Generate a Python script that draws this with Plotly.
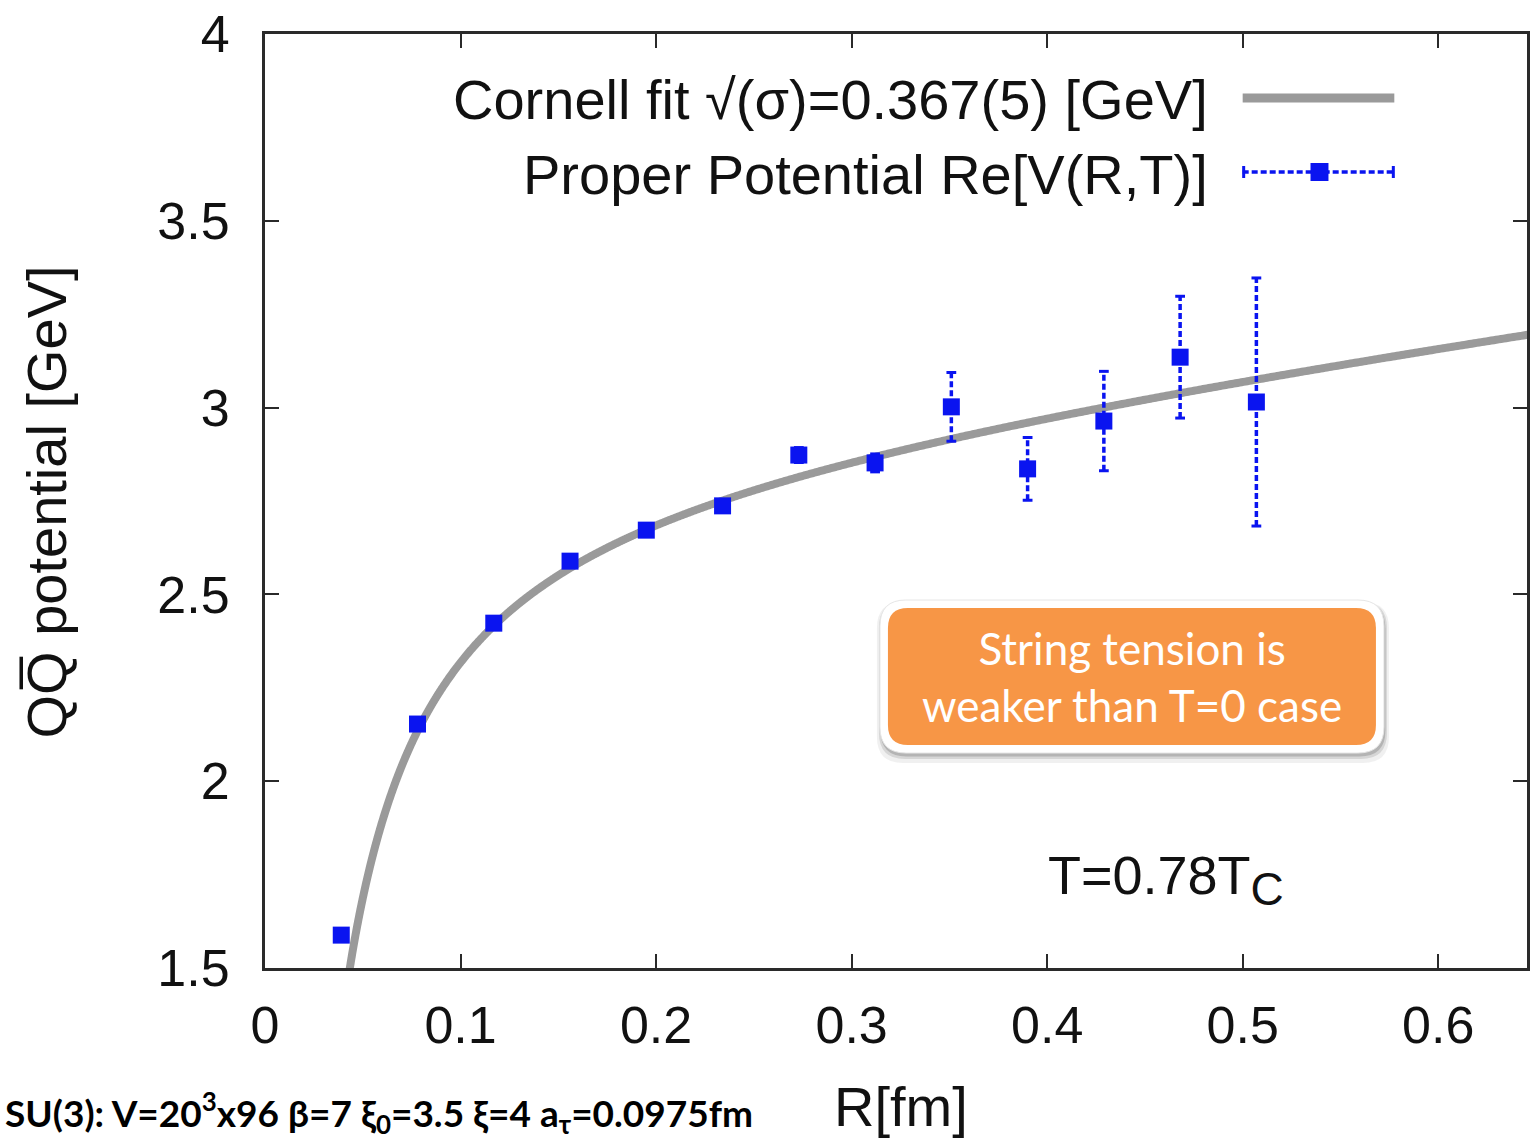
import numpy as np
import plotly.graph_objects as go

# Lattice data: real part of the proper Q-Qbar potential at T = 0.78 Tc
R_FM = [0.039, 0.078, 0.117, 0.156, 0.195, 0.234, 0.273, 0.312, 0.351, 0.390, 0.429, 0.468, 0.507]
V_RE = [1.588, 2.153, 2.423, 2.589, 2.672, 2.737, 2.873, 2.852, 3.002, 2.836, 2.964, 3.135, 3.015]
V_ERR = [0.004, 0.004, 0.004, 0.004, 0.005, 0.006, 0.020, 0.024, 0.092, 0.084, 0.133, 0.163, 0.332]

# Cornell fit V(R) = V0 - alpha*hbar*c/R + sigma*R
SQRT_SIGMA = 0.367          # GeV
HBARC = 0.1973              # GeV fm
FIT_V0 = 2.8465             # GeV
FIT_A = 0.0597              # GeV fm (alpha * hbar c)

X_TICKS = [0, 0.1, 0.2, 0.3, 0.4, 0.5, 0.6]
X_TICK_TEXT = ["0", "0.1", "0.2", "0.3", "0.4", "0.5", "0.6"]
Y_TICKS = [1.5, 2, 2.5, 3, 3.5, 4]
Y_TICK_TEXT = ["1.5", "2", "2.5", "3", "3.5", "4"]

# page geometry (pixels)
W, H = 1530, 1139
ML, MR, MT, MB = 265, 0, 34, 171
X_RANGE = [0.0, 0.6454]
Y_RANGE = [1.5, 4.0]
PW, PH = W - ML - MR, H - MT - MB


def xd(px):
    return X_RANGE[0] + (px - ML) / PW * (X_RANGE[1] - X_RANGE[0])


def yd(py):
    return Y_RANGE[1] - (py - MT) / PH * (Y_RANGE[1] - Y_RANGE[0])


def xp(px):
    return (px - ML) / PW


def yp(py):
    return 1 - (py - MT) / PH


BLUE = "#0a14f0"
GREY = "#9a9a9a"
ORANGE = "#f79646"
DASH = "6px,3px"

sigma_fm = SQRT_SIGMA ** 2 / HBARC
r_curve = np.geomspace(0.035, 0.70, 1500)
v_curve = FIT_V0 - FIT_A / r_curve + sigma_fm * r_curve

fig = go.Figure()

fig.add_trace(go.Scatter(x=r_curve, y=v_curve, mode="lines",
                         line=dict(color=GREY, width=8, simplify=False),
                         hoverinfo="skip", showlegend=False))

# dashed error bars with small caps
ex, ey, cx, cy = [], [], [], []
cap = 0.0025
for r, v, e in zip(R_FM, V_RE, V_ERR):
    ex += [r, r, None]
    ey += [v - e, v + e, None]
    for yy in (v - e, v + e):
        cx += [r - cap, r + cap, None]
        cy += [yy, yy, None]
fig.add_trace(go.Scatter(x=ex, y=ey, mode="lines",
                         line=dict(color=BLUE, width=3.5, dash=DASH),
                         hoverinfo="skip", showlegend=False))
fig.add_trace(go.Scatter(x=cx, y=cy, mode="lines",
                         line=dict(color=BLUE, width=3),
                         hoverinfo="skip", showlegend=False))
fig.add_trace(go.Scatter(x=R_FM, y=V_RE, mode="markers",
                         marker=dict(symbol="square", size=17, color=BLUE,
                                     line=dict(width=0)),
                         showlegend=False))

shapes = []

# legend samples
shapes.append(dict(type="line", xref="x", yref="y", x0=xd(1245), x1=xd(1397),
                   y0=yd(98), y1=yd(98), line=dict(color=GREY, width=9)))
shapes.append(dict(type="line", xref="x", yref="y", x0=xd(1245), x1=xd(1397),
                   y0=yd(172), y1=yd(172), line=dict(color=BLUE, width=3.5, dash=DASH)))
for cxp in (1246, 1396):
    shapes.append(dict(type="line", xref="x", yref="y", x0=xd(cxp), x1=xd(cxp),
                       y0=yd(166), y1=yd(178), line=dict(color=BLUE, width=3)))
shapes.append(dict(type="rect", xref="x", yref="y", x0=xd(1313), x1=xd(1331),
                   y0=yd(163), y1=yd(181), fillcolor=BLUE, line=dict(width=0)))


def rounded_path(w, h, r):
    a, b = w / 2, h / 2
    return (f"M {-a + r},{-b} L {a - r},{-b} Q {a},{-b} {a},{-b + r} "
            f"L {a},{b - r} Q {a},{b} {a - r},{b} L {-a + r},{b} "
            f"Q {-a},{b} {-a},{b - r} L {-a},{-b + r} Q {-a},{-b} {-a + r},{-b} Z")


# callout box: soft shadow, white rim, orange body
BOX_CX, BOX_CY = 1134, 676.5
for dy, grow, op in ((6, 8, 0.08), (4, 4, 0.14), (3, 1, 0.22)):
    shapes.append(dict(type="path", xref="x", yref="y",
                       xsizemode="pixel", ysizemode="pixel",
                       xanchor=xd(BOX_CX + 1), yanchor=yd(BOX_CY + dy),
                       path=rounded_path(504 + grow, 153 + grow, 26),
                       fillcolor=f"rgba(60,60,60,{op})", line=dict(width=0)))
shapes.append(dict(type="path", xref="x", yref="y",
                   xsizemode="pixel", ysizemode="pixel",
                   xanchor=xd(BOX_CX), yanchor=yd(BOX_CY),
                   path=rounded_path(504, 153, 26),
                   fillcolor="white", line=dict(color="#e6e6e6", width=1)))
shapes.append(dict(type="path", xref="x", yref="y",
                   xsizemode="pixel", ysizemode="pixel",
                   xanchor=xd(BOX_CX), yanchor=yd(BOX_CY),
                   path=rounded_path(488, 137, 20),
                   fillcolor=ORANGE, line=dict(width=0)))

TXT = "#111111"
HELV = "Liberation Sans, Arial, sans-serif"

annotations = [
    dict(text="Cornell fit \u221a(\u03c3)=0.367(5) [GeV]", x=xp(1212), y=yp(100),
         xref="paper", yref="paper", xanchor="right", yanchor="middle",
         showarrow=False, font=dict(family=HELV, size=56, color=TXT)),
    dict(text="Proper Potential Re[V(R,T)]", x=xp(1212), y=yp(174),
         xref="paper", yref="paper", xanchor="right", yanchor="middle",
         showarrow=False, font=dict(family=HELV, size=56, color=TXT)),
    dict(text="String tension is<br>weaker than T=0 case", x=xp(BOX_CX), y=yp(BOX_CY),
         xref="paper", yref="paper", xanchor="center", yanchor="middle",
         showarrow=False, align="center",
         font=dict(family="Lato, Noto Sans, sans-serif", size=44, color="white")),
    dict(text="T=0.78T<sub><span style='font-size:46px'>C</span></sub>",
         x=xp(1048), y=yp(880),
         xref="paper", yref="paper", xanchor="left", yanchor="middle",
         showarrow=False, font=dict(family=HELV, size=54, color=TXT)),
    dict(text="QQ\u0305 potential [GeV]", x=xp(45), y=yp(502),
         xref="paper", yref="paper", xanchor="center", yanchor="middle",
         textangle=-90, showarrow=False,
         font=dict(family=HELV, size=56, color=TXT)),
    dict(text="R[fm]", x=xp(903), y=yp(1106),
         xref="paper", yref="paper", xanchor="center", yanchor="middle",
         showarrow=False, font=dict(family=HELV, size=56, color=TXT)),
    dict(text="<b>SU(3): V=20<sup>3</sup>x96 \u03b2=7 \u03be<sub>0</sub>=3.5 \u03be=4 "
              "a<sub>\u03c4</sub>=0.0975fm</b>",
         x=xp(2), y=yp(1112), xref="paper", yref="paper",
         xanchor="left", yanchor="middle", showarrow=False,
         font=dict(family="Lato, Noto Sans, sans-serif", size=37, color="black")),
]

axis_common = dict(showline=True, linecolor="#2a2a2a", linewidth=3, mirror="ticks",
                   ticks="inside", ticklen=14, tickwidth=2, tickcolor="#2a2a2a",
                   showgrid=False, zeroline=False,
                   tickfont=dict(family=HELV, size=52, color=TXT))

fig.update_layout(
    width=W, height=H,
    margin=dict(l=ML, r=MR, t=MT, b=MB, pad=0),
    paper_bgcolor="white", plot_bgcolor="white",
    xaxis=dict(range=X_RANGE, tickvals=X_TICKS, ticktext=X_TICK_TEXT,
               ticklabelstandoff=10, **axis_common),
    yaxis=dict(range=Y_RANGE, tickvals=Y_TICKS, ticktext=Y_TICK_TEXT,
               ticklabelstandoff=22, **axis_common),
    shapes=shapes,
    annotations=annotations,
    showlegend=False,
)

fig.write_html("out.html", config=dict(displayModeBar=False))
